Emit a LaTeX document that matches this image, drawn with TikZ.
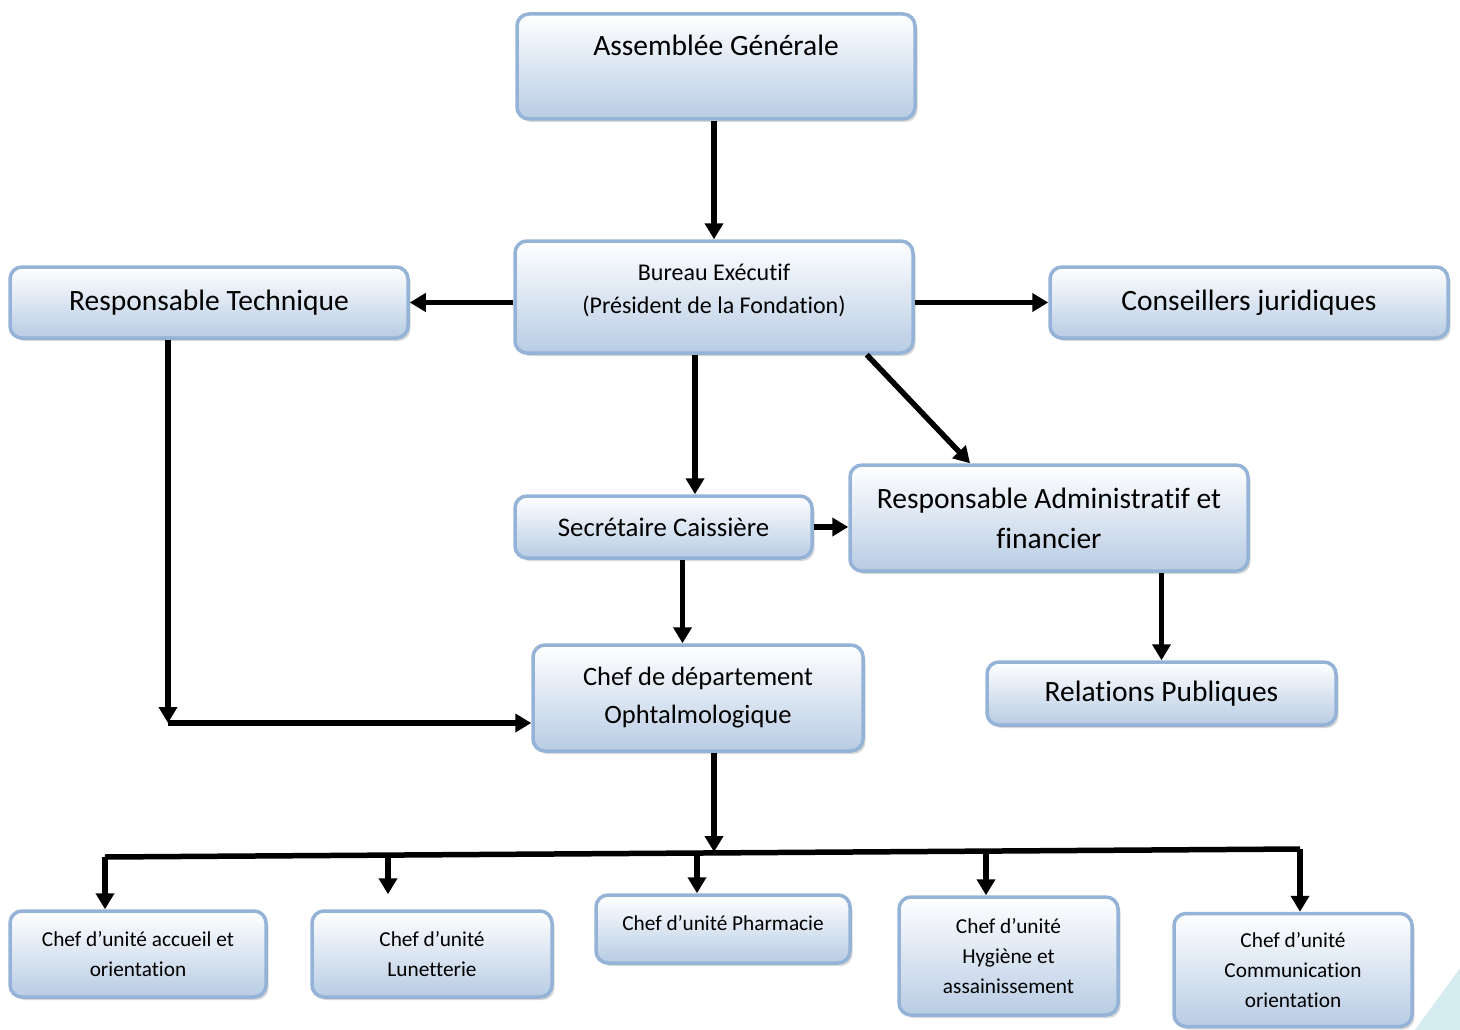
\documentclass[tikz,border=0pt]{standalone}
\usepackage{fontspec}
\setmainfont{Carlito}[Ligatures=CommonOff]
\usetikzlibrary{arrows.meta,shadows}

\definecolor{boitebord}{HTML}{95B3D7}
\definecolor{boitefond}{HTML}{B8CCE4}
\definecolor{coindeco}{HTML}{D5ECF1}

\begin{document}
\begin{tikzpicture}[x=1pt,y=-1pt]

\tikzset{
    boite/.style={
        draw=boitebord,
        line width=3.5pt,
        rounded corners=12pt,
        top color=white,
        bottom color=boitefond,
        drop shadow={shadow xshift=2.5pt,shadow yshift=-3pt,fill=gray!60},
        align=center,
        inner sep=0pt,
    },
    grand/.style={font=\fontsize{29.5}{40}\selectfont},
    moyen/.style={font=\fontsize{24}{33}\selectfont},
    petit/.style={font=\fontsize{21.3}{30}\selectfont},
    fleche/.style={
        line width=5.5pt,
        -{Triangle[length=16pt,width=18pt]}
    }
}

\useasboundingbox (0,0) rectangle (1460,1030);
\fill[coindeco] (1415,1030) -- (1460,968) -- (1460,1030) -- cycle;

% niveau du haut
\node(ag) [boite,grand,minimum width=398,minimum height=105,
    text height=21pt,text depth=42pt] at (716,66.5) {Assemblée Générale};
\node(bureau) [boite,moyen,minimum width=398,minimum height=112,
    text depth=17pt] at (714,297) {Bureau Exécutif\\(Président de la Fondation)};
\node(tech) [boite,grand,minimum width=398,minimum height=71] at (209,302.5)
    {Responsable Technique};
\node(conseil) [boite,grand,minimum width=398,minimum height=71] at (1249,302.5)
    {Conseillers juridiques};

% niveau du milieu
\node(secr) [boite,font=\fontsize{26.8}{30}\selectfont,minimum width=297,minimum height=62]
    at (663.5,527) {Secrétaire Caissière};
\node(admin) [boite,grand,minimum width=398,minimum height=106] at (1049,518)
    {Responsable Administratif et\\financier};
\node(dept) [boite,font=\fontsize{26.5}{38}\selectfont,minimum width=330,minimum height=106]
    at (698,698) {Chef de département\\Ophtalmologique};
\node(rel) [boite,grand,minimum width=349,minimum height=63] at (1161.5,693.5)
    {Relations Publiques};

% unités
\node(acc) [boite,petit,minimum width=256,minimum height=86] at (138,954)
    {Chef d’unité accueil et\\orientation};
\node(lun) [boite,petit,minimum width=240,minimum height=86] at (432,954)
    {Chef d’unité\\Lunetterie};
\node(pha) [boite,petit,minimum width=254,minimum height=68,
    text depth=12pt] at (723,929) {Chef d’unité Pharmacie};
\node(hyg) [boite,petit,minimum width=219,minimum height=118] at (1008.5,956)
    {Chef d’unité\\Hygiène et\\assainissement};
\node(com) [boite,petit,minimum width=238,minimum height=113] at (1293,970)
    {Chef d’unité\\Communication\\orientation};

% liaisons
\draw[fleche] (bureau.north |- ag.south) -- (bureau.north);
\draw[fleche] (bureau.west |- tech.east) -- (tech.east);
\draw[fleche] (bureau.east |- conseil.west) -- (conseil.west);
\draw[fleche] ([xshift=-19]bureau.south) -- ([xshift=-19]bureau.south |- secr.north);
\draw[fleche] ([xshift=-48]bureau.south east) -- ([xshift=-79]admin.north);
\draw[fleche] (secr.east) -- (secr.east -| admin.west);
\draw[fleche] ([xshift=19]secr.south) -- ([xshift=19]secr.south |- dept.north);
\draw[fleche] (rel.north |- admin.south) -- (rel.north);

\coordinate (t1) at ([xshift=-41]tech.south);
\coordinate (d1) at ([yshift=-25]dept.west);
\draw[fleche] (t1) -- (t1 |- d1);
\draw[fleche] (t1 |- d1) -- (d1);

% barre des unités
\coordinate (b1) at (105,857);
\coordinate (b2) at (388,855);
\coordinate (b3) at (697,853);
\coordinate (b4) at (986,850);
\coordinate (b5) at (1300,849);
\coordinate (bm) at (714,852);

\draw[fleche] ([xshift=16]dept.south) -- (bm);
\draw[line width=5.5pt] (b1) -- (b5);
\draw[fleche] (b1) -- (b1 |- acc.north);
\draw[fleche] (b2) -- ([yshift=15]lun.north -| b2);
\draw[fleche] (b3) -- (b3 |- pha.north);
\draw[fleche] (b4) -- (b4 |- hyg.north);
\draw[fleche] (b5) -- (b5 |- com.north);

\end{tikzpicture}
\end{document}
